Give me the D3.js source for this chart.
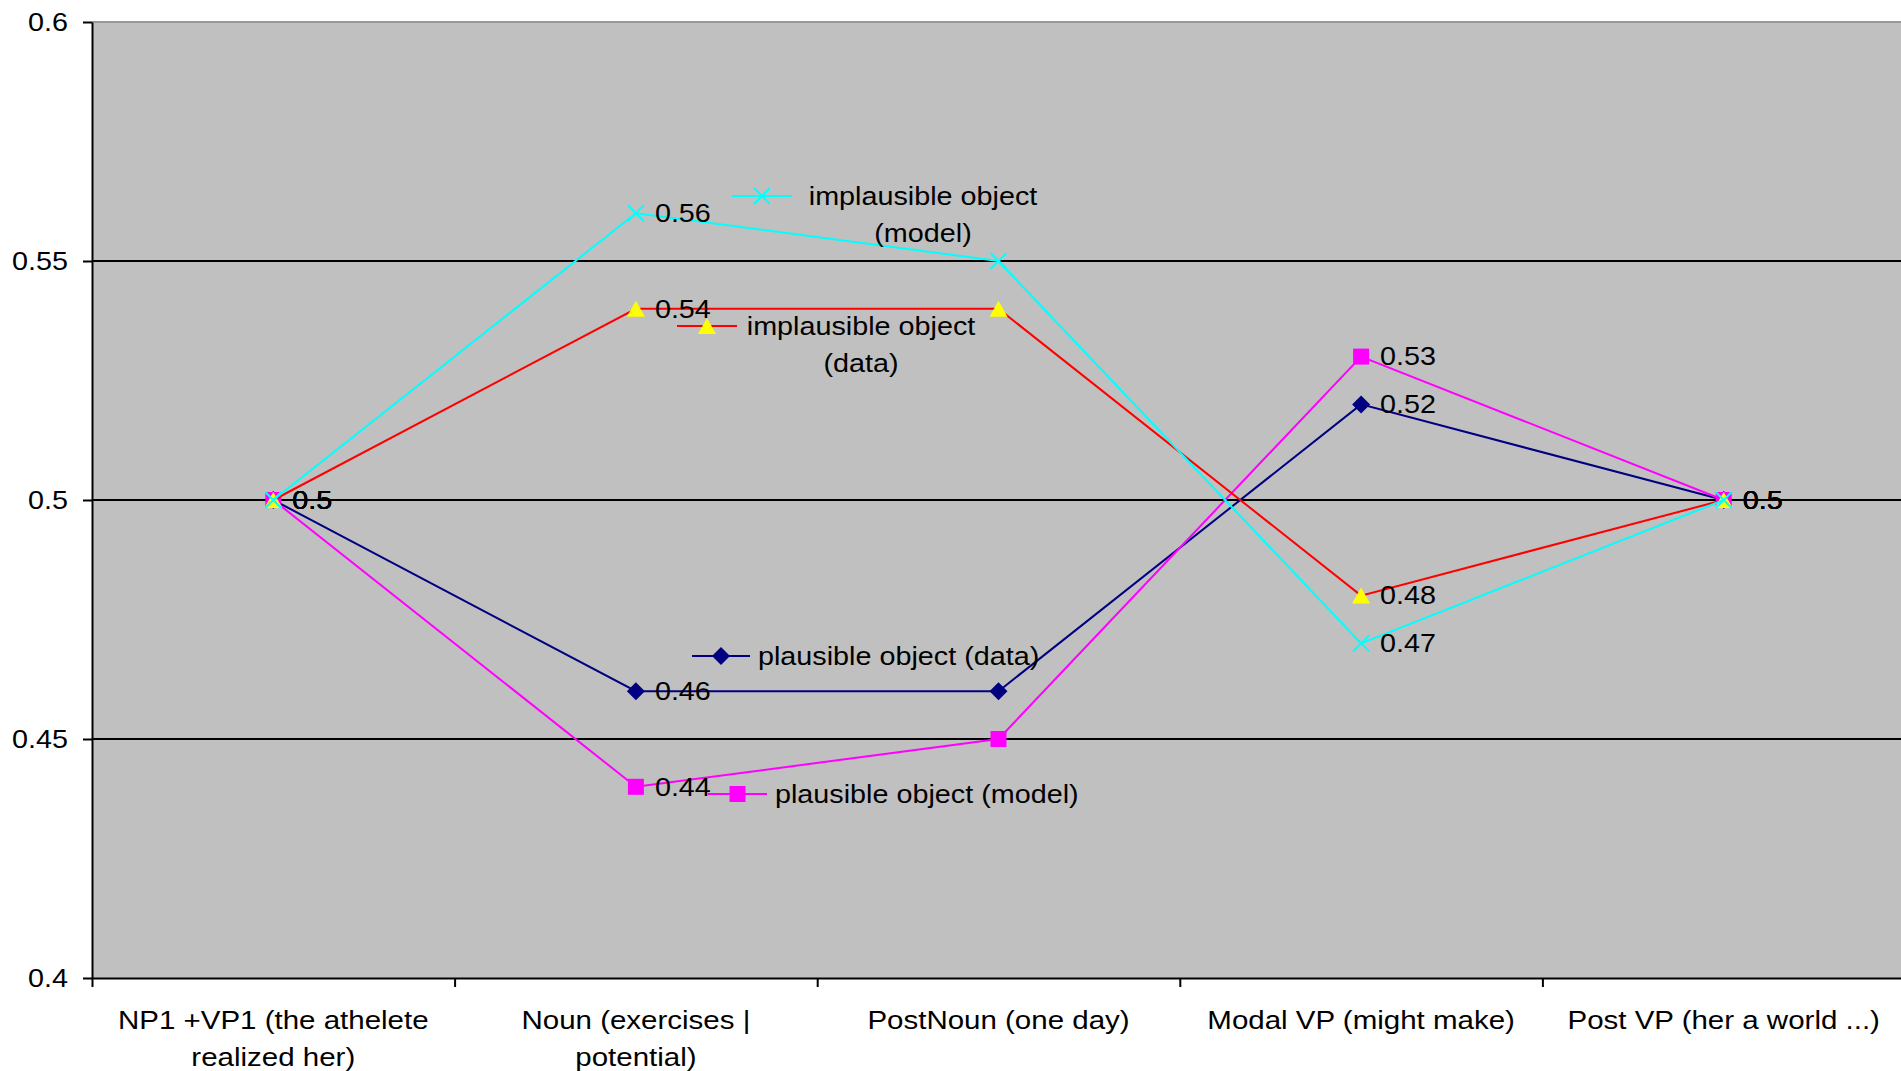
<!DOCTYPE html>
<html>
<head>
<meta charset="utf-8">
<script src="https://cdn.jsdelivr.net/npm/d3@7"></script>
<style>
  body { margin: 0; background: #fff; }
  svg text { font-family: "Liberation Sans", Arial, sans-serif; fill: #000; }
</style>
</head>
<body>
<div id="chart"></div>
<script>
// categories (line breaks as in the picture)
const categories = [
  "NP1 +VP1 (the athelete\nrealized her)",
  "Noun (exercises |\npotential)",
  "PostNoun (one day)",
  "Modal VP (might make)",
  "Post VP (her a world ...)"
]
const yTicks = [0.4, 0.45, 0.5, 0.55, 0.6]

// series values
const plausibleData = [0.5, 0.46, 0.46, 0.52, 0.5]
const plausibleModel = [0.5, 0.44, 0.45, 0.53, 0.5]
const implausibleData = [0.5, 0.54, 0.54, 0.48, 0.5]
const implausibleModel = [0.5, 0.56, 0.55, 0.47, 0.5]

// which points carry a value label
const labelled = [0, 1, 3, 4]

const w = 1901
const h = 1071
const plotLeft = 92
const plotRight = 1905
const plotTop = 22
const plotBottom = 978
const sx = 1.15   // text in the picture is a bit wider than Arial
const fontSize = 25

// series drawn bottom-up, legend placed inside the plot like the original
const series = [
  { name: ["plausible object (data)"], values: plausibleData, color: "#000080", marker: "diamond", fill: "#000080",
    legend: { x1: 692, x2: 750, y: 656, tx: 758, anchor: "start" } },
  { name: ["plausible object (model)"], values: plausibleModel, color: "#ff00ff", marker: "square", fill: "#ff00ff",
    legend: { x1: 708, x2: 767, y: 794, tx: 775, anchor: "start" } },
  { name: ["implausible object", "(data)"], values: implausibleData, color: "#ff0000", marker: "triangle", fill: "#ffff00",
    legend: { x1: 677, x2: 737, y: 326, tx: 861, anchor: "middle" } },
  { name: ["implausible object", "(model)"], values: implausibleModel, color: "#00ffff", marker: "cross", fill: "none",
    legend: { x1: 732, x2: 792, y: 196, tx: 923, anchor: "middle" } }
]

const xScale = d3.scaleBand()
                .domain(categories)
                .range([plotLeft, plotRight])
const yScale = d3.scaleLinear()
                .domain([0.4, 0.6])
                .range([plotBottom, plotTop])
const cx = c => xScale(c) + xScale.bandwidth() / 2

const svg = d3.select("#chart")
              .append("svg")
              .attr("width", w)
              .attr("height", h)

// plot area
svg.append("rect")
  .attr("x", plotLeft)
  .attr("y", plotTop)
  .attr("width", plotRight - plotLeft)
  .attr("height", plotBottom - plotTop)
  .attr("fill", "#c0c0c0")
svg.append("line")
  .attr("x1", plotLeft).attr("x2", plotRight)
  .attr("y1", plotTop).attr("y2", plotTop)
  .attr("stroke", "#999").attr("stroke-width", 2)

// gridlines
svg.append("g")
  .selectAll("line")
  .data(yTicks.filter(t => t > 0.4 && t < 0.6))
  .enter()
  .append("line")
    .attr("x1", plotLeft).attr("x2", plotRight)
    .attr("y1", d => yScale(d)).attr("y2", d => yScale(d))
    .attr("stroke", "#000").attr("stroke-width", 2)

// y-axis
const yAxis = d3.axisLeft(yScale)
                .tickValues(yTicks)
                .tickFormat(d => String(+d.toFixed(2)))
                .tickSize(9)
                .tickSizeOuter(0)
const gy = svg.append("g")
  .attr("transform", `translate(${plotLeft}, 0)`)
  .call(yAxis)
gy.attr("font-family", null).attr("font-size", null)
gy.select(".domain").attr("stroke", "#000").attr("stroke-width", 2)
gy.selectAll(".tick line").attr("stroke", "#000").attr("stroke-width", 2)
gy.selectAll(".tick text")
  .attr("x", -24 / sx)
  .attr("dy", "0.35em")
  .attr("fill", "#000")
  .attr("transform", `scale(${sx},1)`)
  .style("font-size", fontSize + "px")

// x-axis: tick marks at the band edges, labels at the band centres
const edges = d3.scaleLinear().domain([0, categories.length]).range([plotLeft, plotRight])
const gx = svg.append("g")
  .attr("transform", `translate(0, ${plotBottom})`)
  .call(d3.axisBottom(edges).tickValues(d3.range(categories.length + 1)).tickFormat("").tickSize(9).tickSizeOuter(0))
gx.select(".domain").attr("stroke", "#000").attr("stroke-width", 2)
gx.selectAll(".tick line").attr("stroke", "#000").attr("stroke-width", 2)

svg.append("g")
  .selectAll("text")
  .data(categories)
  .enter()
  .append("text")
    .attr("transform", d => `translate(${cx(d)}, 1020) scale(1.18,1)`)
    .attr("text-anchor", "middle")
    .style("font-size", fontSize + "px")
    .each(function(d) {
      d.split("\n").forEach((ln, i) => {
        d3.select(this).append("tspan")
          .attr("x", 0)
          .attr("y", i * 37)
          .attr("dy", "0.35em")
          .text(ln)
      })
    })

// marker shapes
function marker(g, type, color, fill) {
  if (type === "diamond") {
    g.append("path").attr("d", "M0,-9L9,0L0,9L-9,0Z").attr("fill", fill)
  } else if (type === "square") {
    g.append("rect").attr("x", -8).attr("y", -8).attr("width", 16).attr("height", 16).attr("fill", fill)
  } else if (type === "triangle") {
    g.append("path").attr("d", "M0,-8L9,8L-9,8Z").attr("fill", fill)
  } else if (type === "cross") {
    g.append("path").attr("d", "M-8,-8L8,8M-8,8L8,-8").attr("stroke", color).attr("stroke-width", 2).attr("fill", "none")
  }
}

const line = d3.line()
  .x((d, i) => cx(categories[i]))
  .y(d => yScale(d))

series.forEach(s => {
  svg.append("path")
    .datum(s.values)
    .attr("d", line)
    .attr("fill", "none")
    .attr("stroke", s.color)
    .attr("stroke-width", 2)

  s.values.forEach((v, i) => {
    const g = svg.append("g").attr("transform", `translate(${cx(categories[i])}, ${yScale(v)})`)
    marker(g, s.marker, s.color, s.fill)
  })
})

// value labels
series.forEach(s => {
  svg.append("g")
    .selectAll("text")
    .data(labelled)
    .enter()
    .append("text")
      .attr("transform", i => `translate(${cx(categories[i]) + 19}, ${yScale(s.values[i])}) scale(${sx},1)`)
      .attr("dy", "0.35em")
      .style("font-size", fontSize + "px")
      .text(i => s.values[i])
})

// legend entries sitting in the plot
series.forEach(s => {
  const L = s.legend
  svg.append("line")
    .attr("x1", L.x1).attr("x2", L.x2)
    .attr("y1", L.y).attr("y2", L.y)
    .attr("stroke", s.color).attr("stroke-width", 2)
  marker(svg.append("g").attr("transform", `translate(${(L.x1 + L.x2) / 2}, ${L.y})`), s.marker, s.color, s.fill)
  const t = svg.append("text")
    .attr("transform", `translate(${L.tx}, ${L.y}) scale(${sx},1)`)
    .attr("text-anchor", L.anchor)
    .style("font-size", fontSize + "px")
  s.name.forEach((n, i) => {
    t.append("tspan").attr("x", 0).attr("y", i * 37).attr("dy", "0.35em").text(n)
  })
})
</script>
</body>
</html>
